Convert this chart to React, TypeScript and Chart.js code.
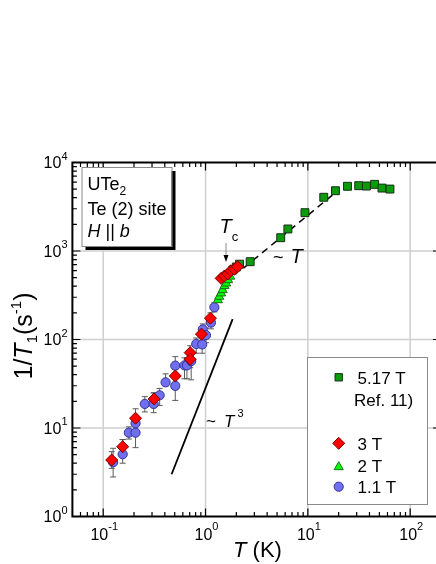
import React, { useEffect, useRef } from 'react';
import { Chart, registerables } from 'chart.js';

Chart.register(...registerables);

const FONT = '"Liberation Sans", Arial, Helvetica, sans-serif';
const CANVAS_W = 450;
const CANVAS_H = 564;

// axis ranges and tick labels
const X_MIN = 0.05;
const X_MAX = 200;
const Y_MIN = 1;
const Y_MAX = 10000;
const xTickValues = [0.1, 1, 10, 100];
const xTickExponents = ['-1', '0', '1', '2'];
const yTickValues = [1, 10, 100, 1000, 10000];
const yTickExponents = ['0', '1', '2', '3', '4'];

// 5.17 T (Ref. 11)
const t517 = [1.85, 2.0, 2.15, 2.73, 5.43, 6.38, 9.37, 14.3, 18.6, 24.4, 31.4, 37.3, 44.9, 53.0, 63.4];
const r517 = [610, 660, 710, 757, 1413, 1773, 2710, 4045, 4800, 5385, 5470, 5420, 5665, 5140, 5010];

// 3 T
const t3 = [0.121, 0.155, 0.207, 0.314, 0.506, 0.708, 0.708, 0.912, 1.117, 1.42, 1.53, 1.65, 1.77, 1.91, 2.06];
const r3 = [4.35, 6.15, 12.9, 21.3, 38.7, 71, 59.7, 115, 174, 491, 522, 550, 599, 621, 665];
const r3Lo = [3.5, 5.0, 10.5, 17, 31, 58, 48, 95, 150, null, null, null, null, null, null];
const r3Hi = [5.4, 7.4, 16.5, 25, 46, 85, 72, 135, 200, null, null, null, null, null, null];

// 2 T
const t2 = [1.32, 1.36, 1.42, 1.47, 1.53, 1.59, 1.66, 1.74];
const r2 = [279, 305, 333, 363, 403, 431, 470, 515];

// 1.1 T
const t11 = [0.125, 0.155, 0.178, 0.207, 0.207, 0.255, 0.311, 0.356, 0.407, 0.506, 0.506, 0.623, 0.658, 0.724, 0.811, 0.927, 0.94, 1.01, 1.13, 1.22];
const r11 = [4.1, 5.05, 8.85, 8.85, 11.3, 18.7, 18.7, 23.4, 32.8, 29.9, 50.6, 51, 51, 57, 89, 88, 130, 112, 155, 231];
const r11Lo = [2.8, 4.0, 7.5, 6.0, null, 15.2, 14.9, 18, 29.8, 20.5, 38, 36, 36, 35, 70, 70, 112, 92, 132, 205];
const r11Hi = [5.9, 7.4, 10.3, 12.3, null, 22.6, 24.9, 28, 40.9, 42, 64, 62, 62, 70, 104, 104, 150, 135, 180, 260];

// guide lines (~T and ~T^3)
const tLinear = [2.35, 20];
const rLinear = [640, 4900];
const tCubic = [0.466, 1.84];
const rCubic = [3.0, 170];

const legendLabels = ['5.17 T', 'Ref. 11)', '3 T', '2 T', '1.1 T'];

const pts = (xs: number[], ys: number[]) => xs.map((x, i) => ({ x, y: ys[i] }));

type Run = { t: string; size: number; italic?: boolean; dy?: number };

function drawRuns(ctx: CanvasRenderingContext2D, x: number, y: number, runs: Run[], align: 'left' | 'center' | 'right' = 'left') {
  ctx.textAlign = 'left';
  ctx.textBaseline = 'alphabetic';
  let w = 0;
  for (const r of runs) {
    ctx.font = `${r.italic ? 'italic ' : ''}${r.size}px ${FONT}`;
    w += ctx.measureText(r.t).width;
  }
  let cx = align === 'left' ? x : align === 'center' ? x - w / 2 : x - w;
  for (const r of runs) {
    ctx.font = `${r.italic ? 'italic ' : ''}${r.size}px ${FONT}`;
    ctx.fillText(r.t, cx, y + (r.dy || 0));
    cx += ctx.measureText(r.t).width;
  }
}

const STYLE = {
  red: { bg: '#ff0000', border: '#7a0000', r: 6 },
  tri: { bg: '#00ff00', border: '#1d6e1d', r: 5.3 },
  blue: { bg: '#7070ee', border: '#34349a', r: 4.6 },
  sq: { bg: '#0b9b0b', border: '#1a2e1a', r: 5.6 },
};

function marker(ctx: CanvasRenderingContext2D, kind: string, x: number, y: number, r: number, bg: string, border: string) {
  ctx.beginPath();
  if (kind === 'circle') {
    ctx.arc(x, y, r, 0, Math.PI * 2);
  } else if (kind === 'diamond') {
    ctx.moveTo(x, y - r); ctx.lineTo(x + r, y); ctx.lineTo(x, y + r); ctx.lineTo(x - r, y); ctx.closePath();
  } else if (kind === 'triangle') {
    ctx.moveTo(x, y - r); ctx.lineTo(x + 0.866 * r, y + 0.5 * r); ctx.lineTo(x - 0.866 * r, y + 0.5 * r); ctx.closePath();
  } else {
    const s = Math.SQRT1_2 * r;
    ctx.rect(x - s, y - s, 2 * s, 2 * s);
  }
  ctx.fillStyle = bg;
  ctx.fill();
  ctx.lineWidth = 1;
  ctx.strokeStyle = border;
  ctx.stroke();
}

const framePlugin = {
  id: 'framePlugin',
  beforeDatasetsDraw(chart: any) {
    const { ctx, chartArea: a, scales } = chart;
    const xs = scales.x;
    const ys = scales.y;
    ctx.save();
    // grid lines at decades
    ctx.strokeStyle = '#cfcfcf';
    ctx.lineWidth = 1.5;
    for (const v of xTickValues) {
      const px = xs.getPixelForValue(v);
      ctx.beginPath(); ctx.moveTo(px, a.top); ctx.lineTo(px, a.bottom); ctx.stroke();
    }
    for (const v of yTickValues) {
      const py = ys.getPixelForValue(v);
      if (py <= a.top + 1 || py >= a.bottom - 1) continue;
      ctx.beginPath(); ctx.moveTo(a.left, py); ctx.lineTo(a.right, py); ctx.stroke();
    }
    // error bars
    ctx.strokeStyle = '#5a5a5a';
    ctx.lineWidth = 1;
    const bars = (T: number[], lo: (number | null)[], hi: (number | null)[]) => {
      T.forEach((t, i) => {
        const l = lo[i];
        const h = hi[i];
        if (l == null || h == null) return;
        const px = xs.getPixelForValue(t);
        const pl = ys.getPixelForValue(l);
        const ph = ys.getPixelForValue(h);
        ctx.beginPath();
        ctx.moveTo(px, pl); ctx.lineTo(px, ph);
        ctx.moveTo(px - 3, pl); ctx.lineTo(px + 3, pl);
        ctx.moveTo(px - 3, ph); ctx.lineTo(px + 3, ph);
        ctx.stroke();
      });
    };
    bars(t11, r11Lo, r11Hi);
    bars(t3, r3Lo, r3Hi);
    ctx.restore();
  },
  afterDatasetsDraw(chart: any) {
    const { ctx, chartArea: a, scales } = chart;
    const xs = scales.x;
    const ys = scales.y;
    ctx.save();
    ctx.fillStyle = '#000';
    ctx.strokeStyle = '#000';

    // ticks (inward)
    ctx.lineWidth = 1.2;
    const yMinor: number[] = [];
    for (let e = 0; e < 4; e++) for (let m = 2; m <= 9; m++) yMinor.push(m * Math.pow(10, e));
    const xMinor: number[] = [];
    for (let e = -2; e < 3; e++) for (let m = 2; m <= 9; m++) {
      const v = m * Math.pow(10, e);
      if (v > X_MIN && v < X_MAX) xMinor.push(v);
    }
    const tickY = (v: number, len: number) => {
      const py = ys.getPixelForValue(v);
      ctx.beginPath();
      ctx.moveTo(a.left, py); ctx.lineTo(a.left + len, py);
      ctx.moveTo(a.right, py); ctx.lineTo(a.right - len, py);
      ctx.stroke();
    };
    const tickX = (v: number, len: number) => {
      const px = xs.getPixelForValue(v);
      ctx.beginPath();
      ctx.moveTo(px, a.bottom); ctx.lineTo(px, a.bottom - len);
      ctx.moveTo(px, a.top); ctx.lineTo(px, a.top + len);
      ctx.stroke();
    };
    yMinor.forEach((v) => tickY(v, 4.5));
    yTickValues.forEach((v) => tickY(v, 8));
    xMinor.forEach((v) => tickX(v, 4.5));
    xTickValues.forEach((v) => tickX(v, 8));

    // frame
    ctx.lineWidth = 2;
    ctx.strokeRect(a.left, a.top, a.right - a.left, a.bottom - a.top);

    // tick labels
    yTickValues.forEach((v, i) => {
      const py = ys.getPixelForValue(v);
      drawRuns(ctx, 67.5, py + 5.5, [
        { t: '10', size: 16 },
        { t: yTickExponents[i], size: 11, dy: -8.5 },
      ], 'right');
    });
    xTickValues.forEach((v, i) => {
      const px = xs.getPixelForValue(v);
      drawRuns(ctx, px + 1, 540, [
        { t: '10', size: 16 },
        { t: xTickExponents[i], size: 11, dy: -10 },
      ], 'center');
    });

    // axis titles
    drawRuns(ctx, 257.5, 557, [
      { t: 'T', size: 22, italic: true },
      { t: ' (K)', size: 22 },
    ], 'center');
    ctx.save();
    ctx.translate(32, 336);
    ctx.rotate(-Math.PI / 2);
    drawRuns(ctx, 0, 0, [
      { t: '1/', size: 25 },
      { t: 'T', size: 25, italic: true },
      { t: '1', size: 15, dy: 5 },
      { t: '(s', size: 25 },
      { t: '-1', size: 15, dy: -11 },
      { t: ')', size: 25 },
    ], 'center');
    ctx.restore();

    // info box with shadow
    const bx = 81.5, by = 167, bw = 90, bh = 79;
    ctx.fillStyle = '#000';
    ctx.fillRect(bx + 4, by + 4, bw, bh);
    ctx.fillStyle = '#fff';
    ctx.fillRect(bx, by, bw, bh);
    ctx.strokeStyle = '#8a8a8a';
    ctx.lineWidth = 1;
    ctx.strokeRect(bx + 0.5, by + 0.5, bw, bh);
    ctx.fillStyle = '#000';
    drawRuns(ctx, 87.5, 190, [{ t: 'UTe', size: 18 }, { t: '2', size: 12, dy: 4.5 }]);
    drawRuns(ctx, 87.5, 215, [{ t: 'Te (2) site', size: 18 }]);
    drawRuns(ctx, 87.5, 236.5, [
      { t: 'H', size: 18, italic: true },
      { t: ' || ', size: 18 },
      { t: 'b', size: 18, italic: true },
    ]);

    // Tc annotation with arrow
    drawRuns(ctx, 219.5, 233.3, [
      { t: 'T', size: 20, italic: true },
      { t: 'c', size: 13, dy: 7.2 },
    ]);
    ctx.lineWidth = 1;
    ctx.beginPath(); ctx.moveTo(226, 243); ctx.lineTo(226, 257); ctx.stroke();
    ctx.beginPath(); ctx.moveTo(223.5, 255); ctx.lineTo(228.5, 255); ctx.lineTo(226, 262); ctx.closePath(); ctx.fill();

    // ~T and ~T^3 labels
    drawRuns(ctx, 273, 263, [{ t: '~', size: 18 }]);
    drawRuns(ctx, 290.5, 263.3, [{ t: 'T', size: 20, italic: true }]);
    drawRuns(ctx, 206, 426.7, [{ t: '~', size: 17 }]);
    drawRuns(ctx, 224, 426.7, [{ t: 'T', size: 17, italic: true }]);
    drawRuns(ctx, 237.5, 417, [{ t: '3', size: 11 }]);

    // legend
    const lx = 307, ly = 357, lw = 120, lh = 147;
    ctx.fillStyle = '#fff';
    ctx.fillRect(lx, ly, lw, lh);
    ctx.strokeStyle = '#8a8a8a';
    ctx.lineWidth = 1;
    ctx.strokeRect(lx + 0.5, ly + 0.5, lw, lh);
    const mx = 338.7;
    marker(ctx, 'square', mx, 377.3, 5.2, STYLE.sq.bg, STYLE.sq.border);
    marker(ctx, 'diamond', mx, 443.3, STYLE.red.r, STYLE.red.bg, STYLE.red.border);
    marker(ctx, 'triangle', mx, 467, STYLE.tri.r, STYLE.tri.bg, STYLE.tri.border);
    marker(ctx, 'circle', mx, 486.7, STYLE.blue.r, STYLE.blue.bg, STYLE.blue.border);
    ctx.fillStyle = '#000';
    drawRuns(ctx, 357.5, 383.5, [{ t: legendLabels[0], size: 17 }]);
    drawRuns(ctx, 354, 405.5, [{ t: legendLabels[1], size: 17 }]);
    drawRuns(ctx, 357.5, 449.5, [{ t: legendLabels[2], size: 17 }]);
    drawRuns(ctx, 357.5, 471.5, [{ t: legendLabels[3], size: 17 }]);
    drawRuns(ctx, 357.5, 492.5, [{ t: legendLabels[4], size: 17 }]);

    ctx.restore();
  },
};

export default function App() {
  const canvasRef = useRef<HTMLCanvasElement | null>(null);

  useEffect(() => {
    const canvas = canvasRef.current;
    if (!canvas) return;
    const chart = new Chart(canvas, {
      type: 'scatter',
      data: {
        datasets: [
          {
            label: '3 T',
            data: pts(t3, r3),
            pointStyle: 'rectRot',
            pointRadius: STYLE.red.r,
            backgroundColor: STYLE.red.bg,
            borderColor: STYLE.red.border,
            borderWidth: 1,
            order: 0,
          },
          {
            label: '2 T',
            data: pts(t2, r2),
            pointStyle: 'triangle',
            pointRadius: STYLE.tri.r,
            backgroundColor: STYLE.tri.bg,
            borderColor: STYLE.tri.border,
            borderWidth: 1,
            order: 1,
          },
          {
            label: '1.1 T',
            data: pts(t11, r11),
            pointStyle: 'circle',
            pointRadius: STYLE.blue.r,
            backgroundColor: STYLE.blue.bg,
            borderColor: STYLE.blue.border,
            borderWidth: 1,
            order: 2,
          },
          {
            label: '5.17 T',
            data: pts(t517, r517),
            pointStyle: 'rect',
            pointRadius: STYLE.sq.r,
            backgroundColor: STYLE.sq.bg,
            borderColor: STYLE.sq.border,
            borderWidth: 1,
            order: 3,
          },
          {
            label: '~T',
            data: pts(tLinear, rLinear),
            showLine: true,
            pointRadius: 0,
            borderColor: '#000',
            borderWidth: 1.5,
            borderDash: [7, 5],
            order: 4,
          },
          {
            label: '~T^3',
            data: pts(tCubic, rCubic),
            showLine: true,
            pointRadius: 0,
            borderColor: '#000',
            borderWidth: 1.8,
            order: 5,
          },
        ],
      },
      options: {
        animation: false,
        responsive: false,
        devicePixelRatio: 1,
        layout: {
          padding: { left: 72.4, top: 162.5, right: CANVAS_W - 441, bottom: CANVAS_H - 516.5 },
        },
        plugins: { legend: { display: false }, tooltip: { enabled: false } },
        scales: {
          x: { type: 'logarithmic', min: X_MIN, max: X_MAX, display: false },
          y: { type: 'logarithmic', min: Y_MIN, max: Y_MAX, display: false },
        },
      },
      plugins: [framePlugin],
    } as any);
    return () => chart.destroy();
  }, []);

  return (
    <div style={{ position: 'absolute', left: 0, top: 0, width: 436, height: 564, overflow: 'hidden', background: '#fff' }}>
      <canvas ref={canvasRef} width={CANVAS_W} height={CANVAS_H} style={{ display: 'block', width: CANVAS_W, height: CANVAS_H }} />
    </div>
  );
}
